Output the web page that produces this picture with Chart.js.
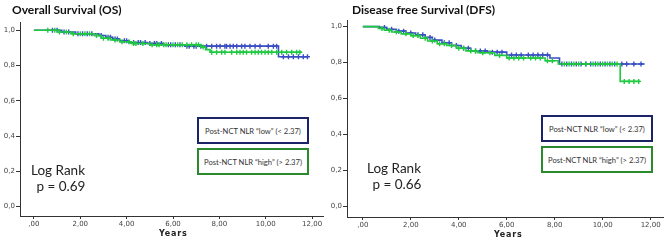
<!DOCTYPE html>
<html>
<head>
<meta charset="utf-8">
<script src="https://cdn.jsdelivr.net/npm/chart.js@4/dist/chart.umd.min.js"></script>
<style>
  html, body { margin: 0; padding: 0; background: #fff; }
  #wrap { position: relative; width: 669px; height: 242px; overflow: hidden; }
  canvas { position: absolute; top: 0; }
  .t { position: absolute; white-space: nowrap; color: #111; }
  .title { font-family: Lato, "Open Sans", sans-serif; font-weight: 700; font-size: 12px; line-height: 12px; }
  .lr { font-family: Lato, "Open Sans", sans-serif; font-size: 13.5px; line-height: 14px; color: #222; }
  .yrs { font-family: "DejaVu Sans", sans-serif; font-weight: 700; font-size: 8px; line-height: 8px; letter-spacing: 0.8px; color: #222; }
  .box { position: absolute; box-sizing: border-box; border: 2px solid; display: flex; align-items: center; justify-content: center;
         font-family: Lato, "Open Sans", sans-serif; font-size: 7.6px; color: #333; white-space: nowrap; background: #fff; }
</style>
</head>
<body>
<div id="wrap">
  <canvas id="os" width="330" height="242" style="left:0px"></canvas>
  <canvas id="dfs" width="347" height="242" style="left:322px"></canvas>

  <div class="t title" style="left:12px; top:4px;">Overall Survival (OS)</div>
  <div class="t title" style="left:352px; top:4px;">Disease free Survival (DFS)</div>

  <div class="box" style="left:197px; top:117px; width:112px; height:27px; border-color:#1b2466;">Post-NCT NLR “low” (&lt; 2.37)</div>
  <div class="box" style="left:197px; top:148px; width:112px; height:27px; border-color:#2b8a2b;">Post-NCT NLR “high” (&gt; 2.37)</div>
  <div class="box" style="left:541px; top:115px; width:112px; height:27px; border-color:#1b2466;">Post-NCT NLR “low” (&lt; 2.37)</div>
  <div class="box" style="left:541px; top:146px; width:112px; height:27px; border-color:#2b8a2b;">Post-NCT NLR “high” (&gt; 2.37)</div>

  <div class="t lr" style="left:31px; top:163px;">Log Rank</div>
  <div class="t lr" style="left:33px; top:179px;">&nbsp;p = 0.69</div>
  <div class="t lr" style="left:367px; top:161px;">Log Rank</div>
  <div class="t lr" style="left:369px; top:177px;">&nbsp;p = 0.66</div>

  <div class="t yrs" style="left:159px; top:230px;">Years</div>
  <div class="t yrs" style="left:494px; top:231px;">Years</div>
</div>

<script>
// ---------- DATA ----------
const xTickValues = [0, 2, 4, 6, 8, 10, 12];
const xTickLabels = [",00", "2,00", "4,00", "6,00", "8,00", "10,00", "12,00"];
const yTickValues = [0, 0.2, 0.4, 0.6, 0.8, 1.0];
const yTickLabels = ["0,0", "0,2", "0,4", "0,6", "0,8", "1,0"];

// Overall Survival — NLR low (blue)
const osLowTimes = [0, 1.2, 1.8, 2.8, 3.1, 3.4, 3.7, 4.1, 4.9, 5.6, 6.5, 10.55, 11.8];
const osLowSurv  = [1.0, 0.99, 0.98, 0.97, 0.96, 0.95, 0.94, 0.93, 0.925, 0.918, 0.91, 0.85, 0.85];
const osLowCensor = [0.8, 1.0, 1.3, 1.5, 1.9, 2.1, 2.3, 2.5, 2.9, 3.2, 3.3, 3.5, 3.6, 3.9, 4.0, 4.3, 4.5, 4.6, 4.8, 5.0,
  5.2, 5.3, 5.5, 5.8, 5.9, 6.1, 6.3, 6.6, 6.7, 6.9, 7.0, 7.2, 7.45, 7.67, 7.88, 8.03, 8.24, 8.31, 8.46, 8.6, 8.75, 8.96,
  9.1, 9.32, 9.54, 9.75, 10.11, 10.33, 10.47, 10.76, 10.98, 11.19, 11.41, 11.62, 11.8];
// Overall Survival — NLR high (green)
const osHighTimes = [0, 1.1, 1.6, 2.6, 2.9, 3.3, 3.7, 4.2, 5.0, 7.2, 7.4, 7.6, 11.55];
const osHighSurv  = [1.0, 0.99, 0.98, 0.97, 0.955, 0.945, 0.935, 0.925, 0.918, 0.905, 0.89, 0.875, 0.875];
const osHighCensor = [0.6, 0.9, 1.1, 1.4, 1.7, 2.0, 2.2, 2.4, 2.7, 3.0, 3.2, 3.5, 3.8, 4.1, 4.3, 4.4, 4.7, 5.1, 5.3, 5.4,
  5.6, 5.7, 6.0, 6.2, 6.4, 6.6, 6.8, 7.0, 7.1, 7.3, 7.67, 7.88, 8.1, 8.24, 8.53, 8.75, 8.89, 9.03, 9.17, 9.39, 9.54, 9.68,
  9.82, 9.97, 10.11, 10.26, 10.47, 10.69, 10.9, 11.12, 11.33, 11.47];

// Disease free Survival — NLR low (blue)
const dfsLowTimes = [0, 0.7, 1.0, 1.4, 1.8, 2.2, 2.6, 2.9, 3.3, 3.7, 4.1, 4.5, 5.2, 6.0, 7.8, 8.2, 11.75];
const dfsLowSurv  = [1.0, 0.995, 0.985, 0.975, 0.965, 0.955, 0.94, 0.925, 0.91, 0.895, 0.88, 0.865, 0.858, 0.842, 0.825, 0.792, 0.792];
const dfsLowCensor = [0.9, 1.2, 1.5, 1.7, 2.0, 2.3, 2.5, 2.8, 3.0, 3.4, 3.6, 3.9, 4.2, 4.4, 4.7, 4.9, 5.1, 5.4, 5.6, 5.8,
  6.2, 6.4, 6.6, 6.9, 7.1, 7.3, 7.5, 7.7, 8.3, 8.5, 8.7, 8.9, 9.1, 9.3, 9.5, 9.7, 9.9, 10.1, 10.3, 10.5, 10.8, 11.0, 11.3, 11.6];
// Disease free Survival — NLR high (green)
const dfsHighTimes = [0, 0.65, 0.9, 1.2, 1.6, 2.0, 2.4, 2.7, 3.1, 3.5, 3.9, 4.3, 4.8, 5.5, 6.0, 7.6, 8.15, 10.73, 11.55];
const dfsHighSurv  = [1.0, 0.99, 0.98, 0.97, 0.96, 0.95, 0.935, 0.92, 0.905, 0.895, 0.88, 0.865, 0.855, 0.84, 0.825, 0.81, 0.792, 0.695, 0.695];
const dfsHighCensor = [0.8, 1.1, 1.4, 1.8, 2.1, 2.3, 2.6, 2.9, 3.2, 3.4, 3.7, 4.0, 4.2, 4.5, 4.7, 5.0, 5.3, 5.7, 6.1, 6.3,
  6.5, 6.7, 7.0, 7.2, 7.4, 7.7, 7.9, 8.4, 8.6, 8.8, 9.0, 9.3, 9.6, 9.8, 10.0, 10.2, 10.4, 10.6, 10.9, 11.1, 11.3, 11.5];

// ---------- HELPERS ----------
const BLUE = "#3b4ec4";
const GREEN = "#1fc93f";

function stepPoints(times, surv) {
  return times.map((t, i) => ({ x: t, y: surv[i] }));
}
function censorPoints(times, surv, censor) {
  // the survival level of the step curve at each censoring time
  return censor.map(c => {
    let s = surv[0];
    for (let i = 0; i < times.length; i++) { if (times[i] <= c) s = surv[i]; }
    return { x: c, y: s };
  });
}

function makePanel(id, cfg) {
  const tickFont = { family: "'DejaVu Sans', sans-serif", size: 7 };
  new Chart(document.getElementById(id), {
    type: "line",
    data: {
      datasets: [
        { data: stepPoints(cfg.hiT, cfg.hiS), stepped: true, borderColor: GREEN, borderWidth: 1.6, pointRadius: 0, fill: false, order: 1 },
        { type: "scatter", data: censorPoints(cfg.hiT, cfg.hiS, cfg.hiC), pointStyle: "cross", pointRadius: 2.5, borderColor: GREEN, borderWidth: 1.4, order: 0 },
        { data: stepPoints(cfg.loT, cfg.loS), stepped: true, borderColor: BLUE, borderWidth: 1.6, pointRadius: 0, fill: false, order: 3 },
        { type: "scatter", data: censorPoints(cfg.loT, cfg.loS, cfg.loC), pointStyle: "cross", pointRadius: 2.5, borderColor: BLUE, borderWidth: 1.4, order: 2 }
      ]
    },
    options: {
      responsive: false,
      animation: false,
      events: [],
      layout: { padding: cfg.pad },
      plugins: { legend: { display: false }, tooltip: { enabled: false }, title: { display: false } },
      scales: {
        x: {
          type: "linear", min: cfg.xmin, max: cfg.xmax,
          afterBuildTicks: s => { s.ticks = xTickValues.map(v => ({ value: v })); },
          afterFit: s => { s.height = cfg.xh; },
          ticks: { callback: (v, i) => xTickLabels[i], font: tickFont, color: "#444", padding: 1, maxRotation: 0, autoSkip: false },
          grid: { drawOnChartArea: false, drawTicks: true, tickLength: 3, color: "#333" },
          border: { display: true, color: "#333", width: 1 }
        },
        y: {
          type: "linear", min: cfg.ymin, max: cfg.ymax,
          afterBuildTicks: s => { s.ticks = yTickValues.map(v => ({ value: v })); },
          afterFit: s => { s.width = cfg.yw; },
          ticks: { callback: (v, i) => yTickLabels[i], font: tickFont, color: "#444", padding: 1 },
          grid: { drawOnChartArea: false, drawTicks: true, tickLength: 4, color: "#333" },
          border: { display: true, color: "#333", width: 1 }
        }
      }
    }
  });
}

makePanel("os", {
  loT: osLowTimes, loS: osLowSurv, loC: osLowCensor,
  hiT: osHighTimes, hiS: osHighSurv, hiC: osHighCensor,
  xmin: -0.6, xmax: 12.47, ymin: -0.054, ymax: 1.047,
  pad: { top: 22, bottom: 0, left: 0, right: 7 }, yw: 20, xh: 26
});
makePanel("dfs", {
  loT: dfsLowTimes, loS: dfsLowSurv, loC: dfsLowCensor,
  hiT: dfsHighTimes, hiS: dfsHighSurv, hiC: dfsHighCensor,
  xmin: -0.66, xmax: 12.54, ymin: -0.06, ymax: 1.037,
  pad: { top: 20, bottom: 0, left: 0, right: 3 }, yw: 25, xh: 25
});
</script>
</body>
</html>
